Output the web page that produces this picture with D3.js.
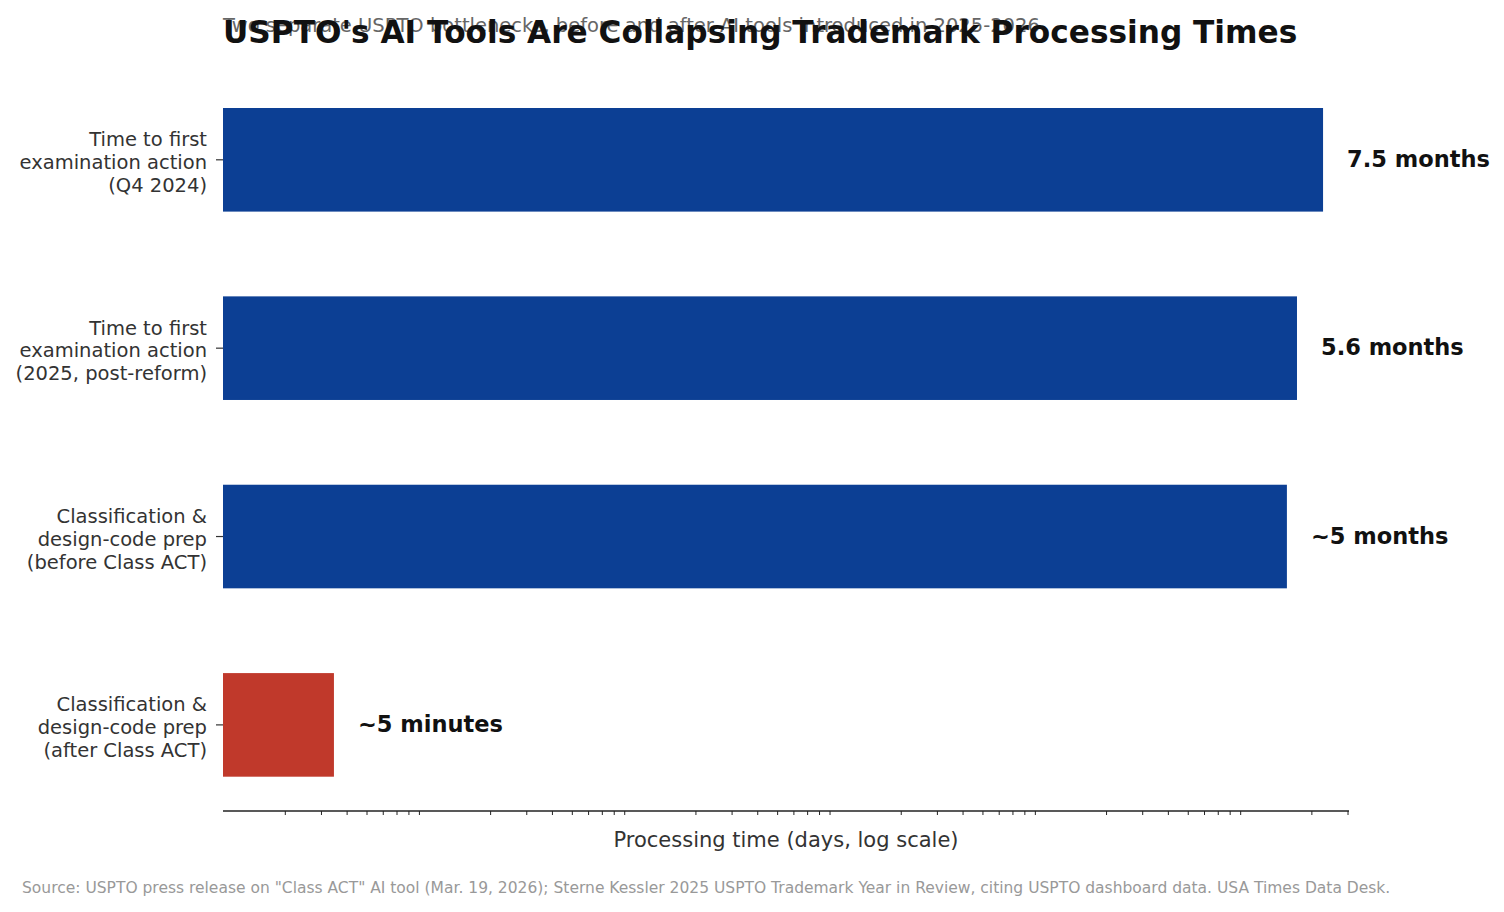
<!DOCTYPE html>
<html>
<head>
<meta charset="utf-8">
<script src="https://cdn.jsdelivr.net/npm/d3@7"></script>
<style>
  html, body { margin: 0; padding: 0; background: #ffffff; }
  svg { display: block; font-family: "DejaVu Sans", sans-serif; }
</style>
</head>
<body>
<svg id="chart" width="1504" height="912"></svg>
<script>
// ---- data ----
const categories = [
  ["Time to first", "examination action", "(Q4 2024)"],
  ["Time to first", "examination action", "(2025, post-reform)"],
  ["Classification &", "design-code prep", "(before Class ACT)"],
  ["Classification &", "design-code prep", "(after Class ACT)"]
];
const valuesDays = [228, 170.2, 152, 0.00347];
const valueLabels = ["7.5 months", "5.6 months", "~5 months", "~5 minutes"];
const barColors = ["#0c3f94", "#0c3f94", "#0c3f94", "#c0392b"];
const xDomain = [0.001, 305];

const titleText = "USPTO's AI Tools Are Collapsing Trademark Processing Times";
const subtitleText = "Two separate USPTO bottlenecks, before and after AI tools introduced in 2025-2026";
const xLabelText = "Processing time (days, log scale)";
const sourceText = "Source: USPTO press release on \"Class ACT\" AI tool (Mar. 19, 2026); Sterne Kessler 2025 USPTO Trademark Year in Review, citing USPTO dashboard data. USA Times Data Desk.";

// ---- layout ----
const svg = d3.select("#chart");
const mLeft = 223, mRight = 1349, axisY = 811;
const bandTop = 51.5, bandBottom = 833.2;

const x = d3.scaleLog().domain(xDomain).range([mLeft, mRight]);
const y = d3.scaleBand().domain(d3.range(categories.length)).range([bandTop, bandBottom])
  .paddingInner(0.45).paddingOuter(0.3);

// bars
svg.append("g").selectAll("rect").data(valuesDays).join("rect")
  .attr("x", x(xDomain[0]))
  .attr("y", (d, i) => y(i))
  .attr("width", d => x(d) - x(xDomain[0]))
  .attr("height", y.bandwidth())
  .attr("fill", (d, i) => barColors[i]);

// value labels
svg.append("g").selectAll("text").data(valuesDays).join("text")
  .attr("x", d => x(d) + 24)
  .attr("y", (d, i) => y(i) + y.bandwidth() / 2 + 7)
  .attr("font-size", 22.5)
  .attr("font-weight", "bold")
  .attr("fill", "#111")
  .text((d, i) => valueLabels[i]);

// y axis ticks + labels
const yg = svg.append("g");
categories.forEach((lines, i) => {
  const cy = y(i) + y.bandwidth() / 2;
  yg.append("line").attr("x1", mLeft - 7).attr("x2", mLeft).attr("y1", cy).attr("y2", cy)
    .attr("stroke", "#333").attr("stroke-width", 1.2);
  const t = yg.append("text").attr("text-anchor", "end")
    .attr("font-size", 19.5).attr("fill", "#333");
  lines.forEach((ln, j) => {
    t.append("tspan").attr("x", mLeft - 16).attr("y", cy + 9.3 + (j - 1) * 22.7).text(ln);
  });
});

// x axis (minor ticks only, no labels)
const minorTicks = x.ticks().filter(v => {
  const m = v / Math.pow(10, Math.floor(Math.log10(v) + 1e-9));
  return Math.abs(m - Math.round(m)) < 1e-6 && Math.round(m) !== 1;
});
const xAxis = d3.axisBottom(x).tickValues(minorTicks).tickSize(4).tickFormat("");
const xg = svg.append("g").attr("transform", `translate(0,${axisY})`).call(xAxis);
xg.select(".domain").attr("stroke", "#222").attr("stroke-width", 1.6).attr("d", `M${mLeft},0H${mRight}`);
xg.selectAll(".tick line").attr("stroke", "#222").attr("stroke-width", 1);

// x label
svg.append("text").attr("x", (mLeft + mRight) / 2).attr("y", 847)
  .attr("text-anchor", "middle").attr("font-size", 21).attr("fill", "#333").text(xLabelText);

// title & subtitle
svg.append("text").attr("x", mLeft).attr("y", 31.5).attr("font-size", 19.5).attr("fill", "#666").text(subtitleText);
svg.append("text").attr("x", mLeft).attr("y", 43).attr("font-size", 31.2).attr("font-weight", "bold").attr("fill", "#111").text(titleText);

// source
svg.append("text").attr("x", 22).attr("y", 893).attr("font-size", 15.5).attr("fill", "#999").text(sourceText);
</script>
</body>
</html>
